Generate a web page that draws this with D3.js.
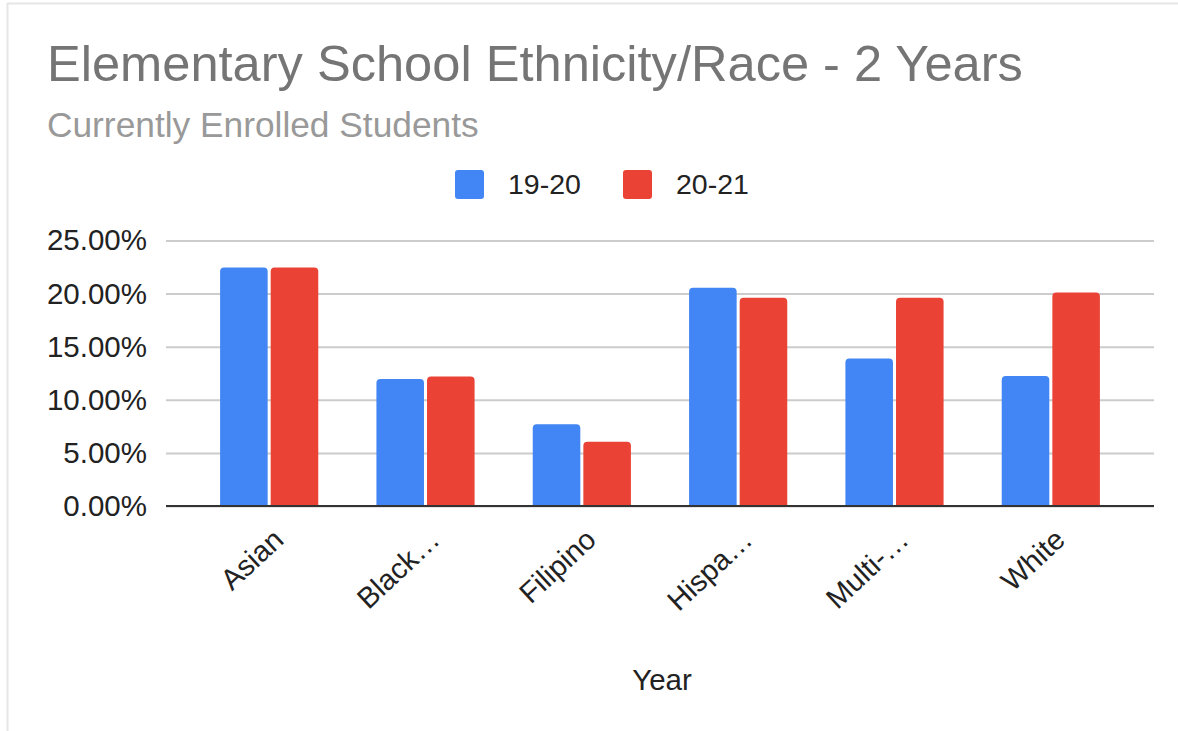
<!DOCTYPE html>
<html>
<head>
<meta charset="utf-8">
<script src="https://cdn.jsdelivr.net/npm/d3@7"></script>
<style>
  body { margin: 0; background: #fff; }
  svg { display: block; font-family: Arial, "Liberation Sans", sans-serif; }
</style>
</head>
<body>
<svg id="chart" width="1178" height="731"></svg>
<script>
const categories = ["Asian", "Black…", "Filipino", "Hispa…", "Multi-…", "White"];
const seriesNames = ["19-20", "20-21"];
const values1920 = [22.45, 11.95, 7.7, 20.55, 13.9, 12.25];
const values2021 = [22.45, 12.2, 6.05, 19.6, 19.6, 20.1];
const yTicks = [0, 5, 10, 15, 20, 25];
const colors = ["#4285f4", "#ea4335"];

const svg = d3.select("#chart");

// card edges
svg.append("line").attr("x1", 7).attr("x2", 1178).attr("y1", 3.5).attr("y2", 3.5)
  .attr("stroke", "#e6e6e6").attr("stroke-width", 2);
svg.append("line").attr("x1", 7.5).attr("x2", 7.5).attr("y1", 3).attr("y2", 731)
  .attr("stroke", "#e6e6e6").attr("stroke-width", 2);

const plotLeft = 166, plotRight = 1154, plotTop = 240.5, plotBottom = 506;

const x = d3.scaleBand()
  .domain(categories)
  .range([plotLeft, plotRight])
  .paddingInner(0.372)
  .paddingOuter(0.346);

const xInner = d3.scaleBand()
  .domain(seriesNames)
  .range([0, x.bandwidth()])
  .paddingInner(0.06);

const y = d3.scaleLinear().domain([0, 25]).range([plotBottom, plotTop]);

// title
svg.append("text").attr("x", 47).attr("y", 81)
  .attr("font-size", 50.6).attr("fill", "#757575")
  .text("Elementary School Ethnicity/Race - 2 Years");
svg.append("text").attr("x", 47).attr("y", 137)
  .attr("font-size", 35.3).attr("fill", "#999999")
  .text("Currently Enrolled Students");

// legend
const legendX = [455, 623];
const legend = svg.selectAll(".legend")
  .data(seriesNames)
  .enter()
  .append("g")
  .attr("transform", (d, i) => `translate(${legendX[i]},170)`);
legend.append("rect")
  .attr("width", 29).attr("height", 29).attr("rx", 3)
  .attr("fill", (d, i) => colors[i]);
legend.append("text")
  .attr("x", 53).attr("y", 24)
  .attr("font-size", 28.5).attr("fill", "#222")
  .text(d => d);

// gridlines + y labels
const yAxis = d3.axisLeft(y)
  .tickValues(yTicks)
  .tickSize(-(plotRight - plotLeft))
  .tickPadding(19)
  .tickFormat(d => d3.format(".2f")(d) + "%");

const yg = svg.append("g").attr("transform", `translate(${plotLeft},0)`).call(yAxis);
yg.select(".domain").remove();
yg.selectAll(".tick line").attr("stroke", "#cccccc").attr("stroke-width", 2);
yg.selectAll(".tick text")
  .attr("font-size", 29.5).attr("fill", "#222")
  .attr("font-family", "Arial, 'Liberation Sans', sans-serif");

// bars
const rows = categories.map((c, i) => ({ cat: c, vals: [values1920[i], values2021[i]] }));

const group = svg.selectAll(".grp")
  .data(rows)
  .enter()
  .append("g")
  .attr("transform", d => `translate(${x(d.cat)},0)`);

function topRounded(x0, y0, w, h, r) {
  r = Math.min(r, h);
  return `M${x0},${y0 + h}V${y0 + r}Q${x0},${y0} ${x0 + r},${y0}H${x0 + w - r}Q${x0 + w},${y0} ${x0 + w},${y0 + r}V${y0 + h}Z`;
}

group.selectAll("path")
  .data(d => d.vals.map((v, i) => ({ v: v, s: seriesNames[i], i: i })))
  .enter()
  .append("path")
  .attr("d", d => topRounded(xInner(d.s), y(d.v), xInner.bandwidth(), plotBottom - y(d.v), 4))
  .attr("fill", d => colors[d.i]);

// baseline
svg.append("line").attr("x1", plotLeft).attr("x2", plotRight).attr("y1", plotBottom).attr("y2", plotBottom)
  .attr("stroke", "#333").attr("stroke-width", 2);

// x labels, slanted
svg.selectAll(".xlab")
  .data(categories)
  .enter()
  .append("text")
  .attr("transform", d => `translate(${x(d) + x.bandwidth() / 2 + 16},542) rotate(-43)`)
  .attr("text-anchor", "end")
  .attr("font-size", 29).attr("fill", "#222")
  .text(d => d);

// x axis title
svg.append("text").attr("x", 662).attr("y", 690)
  .attr("text-anchor", "middle")
  .attr("font-size", 29.5).attr("fill", "#222")
  .text("Year");
</script>
</body>
</html>
